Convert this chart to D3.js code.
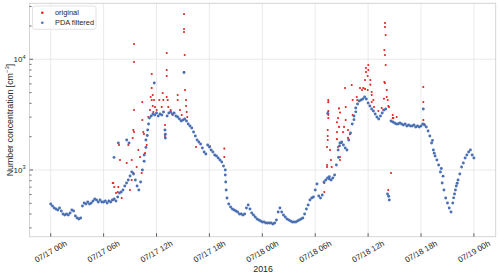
<!DOCTYPE html>
<html><head><meta charset="utf-8">
<script src="https://cdn.jsdelivr.net/npm/d3@7"></script>
<style>body{margin:0;background:#fff} svg{display:block;font-family:"Liberation Sans",Arial,sans-serif}</style>
</head><body>
<svg id="chart" width="500" height="275"></svg>
<script>
// ---- data ----
const startTime = Date.UTC(2016, 6, 17, 0, 0);   // 07/17 00h
const filteredStepHours = 0.2;                    // 12-minute samples
const filteredValues = [
 493,473,454,444,435, 454,426,400,392,400, 392,409,435,426,384, 368,361,368,473,503,
 493,514,493,503,525, 547,536,514,536,514, 514,525,503,525,514, 536,547,525,570,620,
 633,660,717,763,812, 883,959,920,812,717, 660,779,1000,1366,1866, 2298,2949,3075,3205,3139,
 3272,3075,3205,3139,3341, 1945,3075,3272,3341,3205, 3272,3075,3011,2888,2771, 2829,2888,2771,2603,2497,
 2395,2204,2028,1866,1790, 1718,1580,1454,1395,1682, 1614,1516,1454,1366,1338, 1283,1231,1181,1087,1000,
 559,493,463,444,435, 426,417,400,400,392, 400,454,483,444,409, 392,376,361,353,346,
 339,339,332,332,332, 332,325,332,353,417, 454,417,392,376,361, 353,346,339,339,339,
 346,353,361,368,400, 444,483,536,559,570, 660,747,582,559,595, 779,812,847,829,812,
 847,901,1110,1516,1753, 1790,1682,1580,1516,1866, 2159,2603,3075,3631,3947, 4201,4289,4378,4565,4378,
 4029,3786,3556,3411,3205, 3011,2888,3075,3272,3483, 3556,607,536,2771,2714, 2658,2603,2603,2658,2603,
 2550,2603,2497,2550,2497, 2497,2550,2446,2497,2446, 2497,2603,2550,2446,2251, 2028,1753,1516,1338,1231,
 1110,959,763,660,559, 503,454,417,503,607, 717,812,920,1064,1157, 1283,1366,1454,1516,1366,
 1283
];
// extra filtered points off the regular grid
const filteredExtraHours  = [7.18, 7.67, 8.62, 8.88, 11.75, 15.12, 12.96, 13.0, 19.8, 19.85, 19.9, 10.6, 10.8, 10.95, 11.1, 31.42, 31.6, 42.26, 38.33, 32.65, 32.75, 34.4, 34.6, 43.3, 43.5, 44.3, 44.5, 45.7, 45.9, 46.1];
const filteredExtraValues = [1300, 1753, 1866, 1753, 6109, 7600, 2300, 2100, 900, 780, 660, 1200, 1600, 2050, 2600, 3250, 870, 3556, 580, 1300, 1650, 2850, 3350, 1850, 1420, 1030, 880, 560, 660, 760];
// original (unfiltered) points that differ from the filtered series
const originalHours = [
 7.03,7.10,7.10,7.21,7.41,7.60,7.67,7.75,7.86,8.05,8.62,8.80,8.99,9.19,9.19,9.30,9.37,9.37,9.45,9.45,
 9.45,9.45,9.75,9.94,10.13,10.32,10.39,10.39,10.50,10.58,10.70,10.89,11.07,11.26,11.34,11.46,11.46,11.46,11.57,11.57,
 11.64,11.72,11.83,12.02,12.32,12.59,12.70,12.77,12.96,12.96,12.96,13.16,13.16,13.16,13.16,13.27,13.34,13.61,13.84,14.40,
 14.40,14.66,14.86,15.12,15.12,15.12,15.20,15.12,15.23,15.35,15.35,15.42,15.49,16.48,18.07,19.69,19.69,
 31.03,31.03,31.34,31.34,31.34,31.42,31.42,31.42,31.48,31.48,31.48,31.48,31.48,31.68,31.79,31.87,32.47,32.59,32.70,32.81,
 32.81,32.70,32.81,32.47,32.59,32.47,33.00,33.15,33.27,33.38,33.46,33.46,33.72,33.72,33.95,34.14,34.25,34.25,34.71,34.77,
 35.08,35.31,35.45,35.65,35.65,35.76,35.76,35.95,35.95,36.02,36.02,36.25,36.25,36.41,36.41,36.41,36.59,36.67,37.16,37.54,
 37.72,37.80,37.84,37.84,37.91,37.91,37.91,37.91,37.99,37.99,38.11,38.11,38.22,38.29,38.37,38.29,38.60,38.79,38.79,38.86,
 39.24,42.26,42.26,42.26,42.34
];
const originalValues = [
 763,536,763,702,620,633,702,1682,1231,559,1157,1682,660,1231,812,1945,2298,940,13750,9455,
 3483,2204,1064,1516,1311,940,4114,2829,2204,2114,1420,1682,3011,3483,4565,7363,5505,4289,4759,3786,
 3341,4289,3706,3483,4289,3706,4961,4289,2550,2298,2028,11400,8004,7065,4565,4289,3706,3483,3139,4759,
 4289,3483,3139,25660,18780,17640,10940,7676,5280,4289,3786,3341,3011,1614,1640,1560,1311,
 763,633,1064,1110,1614,1866,2028,2298,2950,3150,3400,4100,4289,1516,1231,1064,2700,2950,2450,1311,
 1231,3600,3300,2200,1614,1900,1753,2200,2450,5505,3706,2829,1950,2300,2100,5859,4289,3139,4565,4289,
 5500,5280,5505,5400,6501,8346,7676,7065,5280,8882,8004,6501,5900,5065,4759,4114,4289,3706,3411,3631,
 3483,4400,6235,12130,21280,19570,10940,6109,16580,8882,5280,4565,4289,3786,3706,660,940,3139,2949,2949,
 3011,5620,4114,2829,2600
];
const xTickHours  = [0, 6, 12, 18, 24, 30, 36, 42, 48];
const xTickLabels = ["07/17 00h","07/17 06h","07/17 12h","07/17 18h","07/18 00h","07/18 06h","07/18 12h","07/18 18h","07/19 00h"];
const yMajorTicks = [1000, 10000];
const yMajorExponents = ["3", "4"];
const yMinorTicks = [300,400,500,600,700,800,900,2000,3000,4000,5000,6000,7000,8000,9000,20000,30000];
const seriesNames = ["original", "PDA filtered"];
const seriesColors = ["#e3211c", "#4a70b4"];

// ---- chart ----
const H = 3600e3;
const toDate = h => new Date(startTime + h * H);
const svg = d3.select("#chart");
const L = 29.5, R = 495.7, T = 3.3, B = 236.7;
const x = d3.scaleUtc().domain([toDate(-2.404), toDate(50.47)]).range([L, R]);
const y = d3.scaleLog().domain([249.7, 32050]).range([B, T]);

// grid
const grid = svg.append("g").attr("stroke", "#e8e8e8").attr("stroke-width", 0.9);
grid.selectAll("line.gx").data(xTickHours).join("line")
  .attr("x1", d => x(toDate(d))).attr("x2", d => x(toDate(d))).attr("y1", T).attr("y2", B);
grid.selectAll("line.gy").data(yMajorTicks).join("line")
  .attr("y1", d => y(d)).attr("y2", d => y(d)).attr("x1", L).attr("x2", R);

// frame
svg.append("rect").attr("x", L).attr("y", T).attr("width", R - L).attr("height", B - T)
  .attr("fill", "none").attr("stroke", "#d0d0d0").attr("stroke-width", 0.9);

// ticks (inward)
const tk = svg.append("g").attr("stroke", "#555").attr("stroke-width", 0.9);
tk.selectAll("line.tx").data(xTickHours).join("line")
  .attr("x1", d => x(toDate(d))).attr("x2", d => x(toDate(d))).attr("y1", B).attr("y2", B - 3.5);
tk.selectAll("line.tym").data(yMajorTicks).join("line")
  .attr("y1", d => y(d)).attr("y2", d => y(d)).attr("x1", L).attr("x2", L + 3.5);
tk.selectAll("line.tyn").data(yMinorTicks).join("line")
  .attr("y1", d => y(d)).attr("y2", d => y(d)).attr("x1", L).attr("x2", L + 2);

// x tick labels
svg.append("g").selectAll("text").data(xTickHours).join("text")
  .attr("transform", (d) => `translate(${x(toDate(d))},251.5) rotate(-30)`)
  .attr("text-anchor", "middle").attr("dy", "0.35em")
  .attr("font-size", 8).attr("fill", "#262626")
  .text((d, i) => xTickLabels[i]);

// y tick labels
const yl = svg.append("g").selectAll("text").data(yMajorTicks).join("text")
  .attr("x", 25.5).attr("y", d => y(d)).attr("dy", "0.35em")
  .attr("text-anchor", "end").attr("font-size", 8).attr("fill", "#262626");
yl.append("tspan").text("10");
yl.append("tspan").attr("dy", -3.5).attr("font-size", 5.6).text((d, i) => yMajorExponents[i]);

// axis labels
svg.append("text").attr("x", (L + R) / 2 + 0.5).attr("y", 272).attr("text-anchor", "middle")
  .attr("font-size", 8.8).attr("fill", "#262626").text("2016");
const ylab = svg.append("text").attr("transform", `translate(12.5,${(T + B) / 2}) rotate(-90)`)
  .attr("text-anchor", "middle").attr("font-size", 8.8).attr("fill", "#262626");
ylab.append("tspan").text("Number concentration [cm");
ylab.append("tspan").attr("dy", -3.5).attr("font-size", 6).text("\u22123");
ylab.append("tspan").attr("dy", 3.5).text("]");

// points
const plot = svg.append("g");
plot.selectAll("circle.o").data(originalHours.map((h, i) => [h, originalValues[i]])).join("circle")
  .attr("cx", d => x(toDate(d[0]))).attr("cy", d => y(d[1])).attr("r", 1.05).attr("fill", seriesColors[0]);
const filtered = filteredValues.map((v, i) => [i * filteredStepHours, v])
  .concat(filteredExtraHours.map((h, i) => [h, filteredExtraValues[i]]));
plot.selectAll("circle.f").data(filtered).join("circle")
  .attr("cx", d => x(toDate(d[0]))).attr("cy", d => y(d[1])).attr("r", 1.45).attr("fill", seriesColors[1]);

// legend
const lg = svg.append("g");
lg.append("rect").attr("x", 32.5).attr("y", 6).attr("width", 63.5).attr("height", 23.3).attr("rx", 2)
  .attr("fill", "#fff").attr("fill-opacity", 0.8).attr("stroke", "#dcdcdc").attr("stroke-width", 0.8);
seriesNames.forEach((n, i) => {
  lg.append("circle").attr("cx", 42.3).attr("cy", 12.7 + i * 10).attr("r", 1.3).attr("fill", seriesColors[i]);
  lg.append("text").attr("x", 55).attr("y", 12.7 + i * 10).attr("dy", "0.35em")
    .attr("font-size", 7.4).attr("fill", "#262626").text(n);
});
</script>
</body></html>
